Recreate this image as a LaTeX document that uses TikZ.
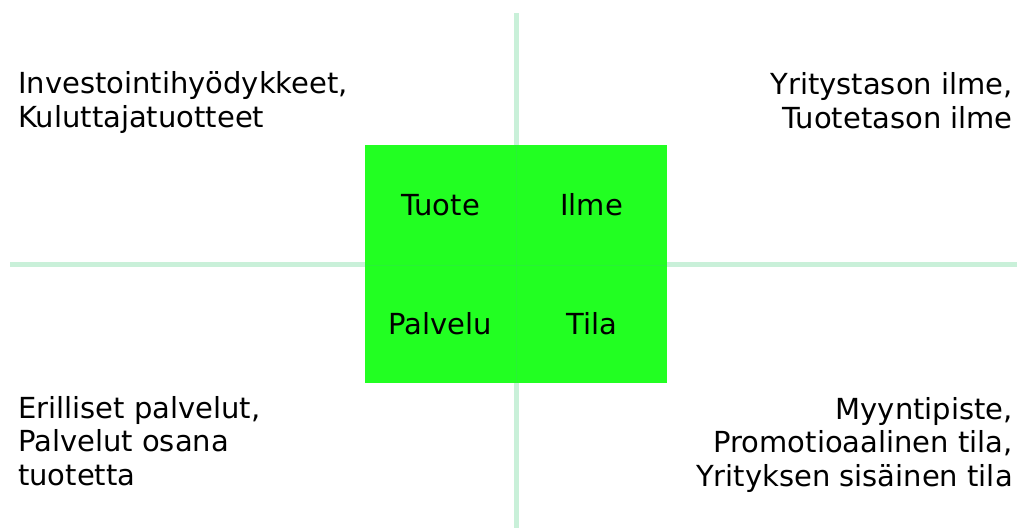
\documentclass[tikz,border=0pt]{standalone}
\usepackage{fontspec}
\setmainfont{DejaVu Sans}
\usepackage{tikz}
\usetikzlibrary{positioning,calc}
\definecolor{CellGreen}{RGB}{34,255,34}
\definecolor{AxisGreen}{RGB}{60,200,120}
\tikzset{
  cell/.style={rectangle,fill=CellGreen,inner sep=0pt,minimum width=151pt,
    font=\fontsize{29}{33.3}\selectfont},
  axis/.style={draw=AxisGreen,draw opacity=0.28,line width=5pt},
  seam/.style={draw=AxisGreen,draw opacity=0.25,line width=1pt},
  corner/.style={inner sep=0pt,font=\fontsize{29}{33.3}\selectfont},
}

\begin{document}
\begin{tikzpicture}[x=1pt,y=-1pt]
\useasboundingbox (0,0) rectangle (1017,528);
% axes, behind the cells
\coordinate (hl) at (10,264.5);
\coordinate (hr) at (1017,264.5);
\coordinate (vt) at (516.3,13);
\coordinate (vb) at (516.3,528);
\draw[axis] (hl)--(hr);
\draw[axis] (vt)--(vb);
% the four cells
\node[cell,minimum height=120pt] (tuote) at (440.5,205) {Tuote};
\node[cell,minimum height=120pt] (ilme) at (591.5,205) {Ilme};
\node[cell,minimum height=118pt] (palvelu) at (440.5,324) {Palvelu};
\node[cell,minimum height=118pt] (tila) at (591.5,324) {Tila};
% faint seams between the cells
\draw[seam] (tuote.north east)--(palvelu.south east);
\draw[seam] (tuote.south west)--(ilme.south east);
% corner texts (base = last line)
\node[corner,anchor=base west,align=left] (tl) at (18,127) {Investointihyödykkeet,\\Kuluttajatuotteet};
\node[corner,anchor=base east,align=right] (tr) at (1013,128) {Yritystason ilme,\\Tuotetason ilme};
\node[corner,anchor=base west,align=left] (bl) at (18,485) {Erilliset palvelut,\\Palvelut osana\\tuotetta};
\node[corner,anchor=base east,align=right] (br) at (1013,486) {Myyntipiste,\\Promotioaalinen tila,\\Yrityksen sisäinen tila};
\end{tikzpicture}
\end{document}
